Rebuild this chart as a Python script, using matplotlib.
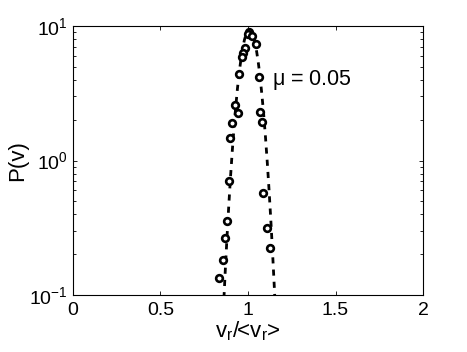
import matplotlib
matplotlib.use("Agg")
import matplotlib.pyplot as plt

plt.rcParams["font.family"] = ["Liberation Sans", "DejaVu Sans"]
plt.rcParams["mathtext.fontset"] = "custom"
plt.rcParams["mathtext.rm"] = "Liberation Sans"
plt.rcParams["mathtext.it"] = "Liberation Sans"

# measured points (v_r/<v_r>, P(v))
v_pts = [1.007, 1.000, 1.021, 1.046, 0.983, 0.970, 0.964, 0.950, 1.065,
         0.925, 0.945, 0.907, 1.069, 1.078, 0.897, 0.891, 1.087, 0.878,
         1.107, 0.869, 1.126, 0.859, 0.834]
p_pts = [9.08, 8.7, 8.44, 7.35, 6.82, 6.27, 5.85, 4.40, 4.16,
         2.59, 2.27, 1.89, 2.31, 1.94, 1.46, 0.705, 0.577, 0.355,
         0.313, 0.264, 0.222, 0.182, 0.133]

# dashed fit curve
v_fit = [0.85, 0.86, 0.87, 0.88, 0.89, 0.90, 0.91, 0.92, 0.93, 0.94, 0.95,
         0.96, 0.97, 0.98, 0.99, 1.00, 1.01, 1.02, 1.03, 1.04, 1.05, 1.06,
         1.07, 1.08, 1.09, 1.10, 1.11, 1.12, 1.13, 1.14, 1.15, 1.16, 1.17]
p_fit = [0.041, 0.080, 0.149, 0.266, 0.454, 0.743, 1.16, 1.74, 2.50, 3.44, 4.52,
         5.69, 6.86, 7.92, 8.75, 9.27, 9.40, 9.10, 8.46, 7.52, 6.40, 5.22,
         4.07, 3.04, 2.18, 1.49, 0.977, 0.614, 0.369, 0.212, 0.117, 0.062, 0.030]

x_ticks = [0, 0.5, 1, 1.5, 2]
x_tick_labels = ["0", "0.5", "1", "1.5", "2"]

fig = plt.figure(figsize=(4.67, 3.52), dpi=100)
ax = fig.add_axes([0.156, 0.162, 0.750, 0.764])

ax.plot(v_fit, p_fit, color="black", lw=2.0, linestyle=(0, (2.2, 2.2)))
ax.plot(v_pts, p_pts, "o", mfc="white", mec="black", ms=4.8, mew=1.9)

ax.set_yscale("log")
ax.set_xlim(0, 2)
ax.set_ylim(0.1, 10)
ax.set_xticks(x_ticks)
ax.set_xticklabels(x_tick_labels)
ax.tick_params(direction="in", which="both", top=True, right=True,
               labelsize=14, length=3, width=0.6)
ax.tick_params(axis="x", pad=5)
ax.tick_params(which="minor", length=2)
for s in ax.spines.values():
    s.set_linewidth(0.8)

ax.text(1.14, 4.0, r"$\mu$ = 0.05", fontsize=15.5, ha="left", va="center")
ax.set_xlabel(r"v$_\mathregular{r}$/<v$_\mathregular{r}$>", fontsize=16, labelpad=0)
ax.set_ylabel("P(v)", fontsize=16, labelpad=1)

fig.savefig("out.png", dpi=100)
